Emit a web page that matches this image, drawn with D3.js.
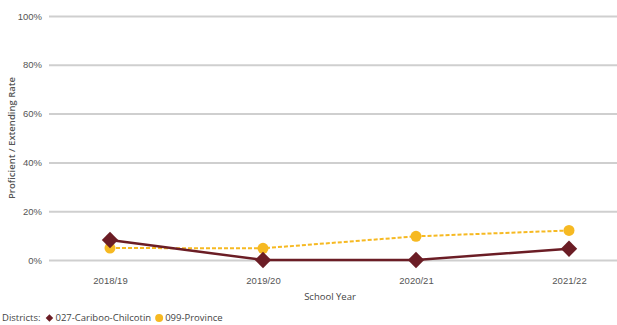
<!DOCTYPE html>
<html>
<head>
<meta charset="utf-8">
<script src="https://cdn.jsdelivr.net/npm/d3@7/dist/d3.min.js"></script>
<style>
  html, body { margin: 0; padding: 0; background: #fff; }
  svg { display: block; font-family: "Open Sans", "Noto Sans", sans-serif; }
</style>
</head>
<body>
<svg id="chart" width="617" height="325"></svg>
<script>
// School years and proficiency rates (%)
const years = ["2018/19", "2019/20", "2020/21", "2021/22"];
const districtValues = [8.2, 0, 0, 4.6];
const provinceValues = [4.9, 4.8, 9.7, 12.1];
const yTicks = [0, 20, 40, 60, 80, 100];
const seriesNames = ["027-Cariboo-Chilcotin", "099-Province"];

const districtColor = "#6b1d25";
const provinceColor = "#f6b922";

const svg = d3.select("#chart");

const x = d3.scalePoint().domain(years).range([110, 569]);
const y = d3.scaleLinear().domain([0, 100]).range([260, 16]);

// Horizontal gridlines with percentage labels
const yAxis = d3.axisLeft(y)
  .tickValues(yTicks)
  .tickSize(-(617 - 49))
  .tickPadding(7)
  .tickFormat(d => d + "%");

const gy = svg.append("g")
  .attr("transform", "translate(49,0)")
  .call(yAxis);
gy.select(".domain").remove();
gy.selectAll(".tick line").attr("stroke", "#cfcfcf").attr("stroke-width", 2);
gy.selectAll(".tick text").attr("fill", "#555").attr("font-size", 9.5);

// Category labels along the bottom
const xAxis = d3.axisBottom(x).tickSize(0).tickPadding(0);
const gx = svg.append("g")
  .attr("transform", "translate(0,281)")
  .call(xAxis);
gx.select(".domain").remove();
gx.selectAll(".tick text").attr("fill", "#555").attr("font-size", 9.5).attr("dy", "0.35em");

// Axis titles
svg.append("text")
  .attr("x", 330).attr("y", 300)
  .attr("text-anchor", "middle")
  .attr("font-size", 9.5).attr("fill", "#444")
  .text("School Year");

svg.append("text")
  .attr("transform", "translate(15,138) rotate(-90)")
  .attr("text-anchor", "middle")
  .attr("font-size", 9.5).attr("font-weight", 600).attr("fill", "#555")
  .text("Proficient / Extending Rate");

const line = d3.line()
  .x((d, i) => x(years[i]))
  .y(d => y(d));

// Province series: dashed line with circles
svg.append("path")
  .datum(provinceValues)
  .attr("fill", "none")
  .attr("stroke", provinceColor)
  .attr("stroke-width", 2)
  .attr("stroke-dasharray", "4,2")
  .attr("d", line);

svg.selectAll(".prov-pt")
  .data(provinceValues)
  .join("circle")
  .attr("class", "prov-pt")
  .attr("cx", (d, i) => x(years[i]))
  .attr("cy", d => y(d))
  .attr("r", 5.5)
  .attr("fill", provinceColor);

// District series: solid line with diamonds
svg.append("path")
  .datum(districtValues)
  .attr("fill", "none")
  .attr("stroke", districtColor)
  .attr("stroke-width", 2.5)
  .attr("d", line);

const diamond = d3.symbol().type(d3.symbolDiamond2).size(170);
svg.selectAll(".dist-pt")
  .data(districtValues)
  .join("path")
  .attr("class", "dist-pt")
  .attr("transform", (d, i) => `translate(${x(years[i])},${y(d)})`)
  .attr("d", diamond)
  .attr("fill", districtColor);

// Legend: items laid out left to right from measured text widths
const legend = svg.append("g").attr("transform", "translate(2,318)");
const legendFont = 9.5;
let cursor = 0;
const label = legend.append("text")
  .attr("x", cursor).attr("y", 0).attr("dy", "0.35em")
  .attr("font-size", legendFont).attr("fill", "#444")
  .text("Districts:");
cursor += label.node().getComputedTextLength() + 9;

const markers = [
  g => g.append("path")
        .attr("d", d3.symbol().type(d3.symbolDiamond2).size(36))
        .attr("fill", districtColor),
  g => g.append("circle").attr("r", 4).attr("fill", provinceColor)
];
seriesNames.forEach((name, i) => {
  const item = legend.append("g").attr("transform", `translate(${cursor},0)`);
  markers[i](item);
  const t = item.append("text")
    .attr("x", 6).attr("y", 0).attr("dy", "0.35em")
    .attr("font-size", legendFont).attr("fill", "#444")
    .text(name);
  cursor += 6 + t.node().getComputedTextLength() + 8;
});
</script>
</body>
</html>
